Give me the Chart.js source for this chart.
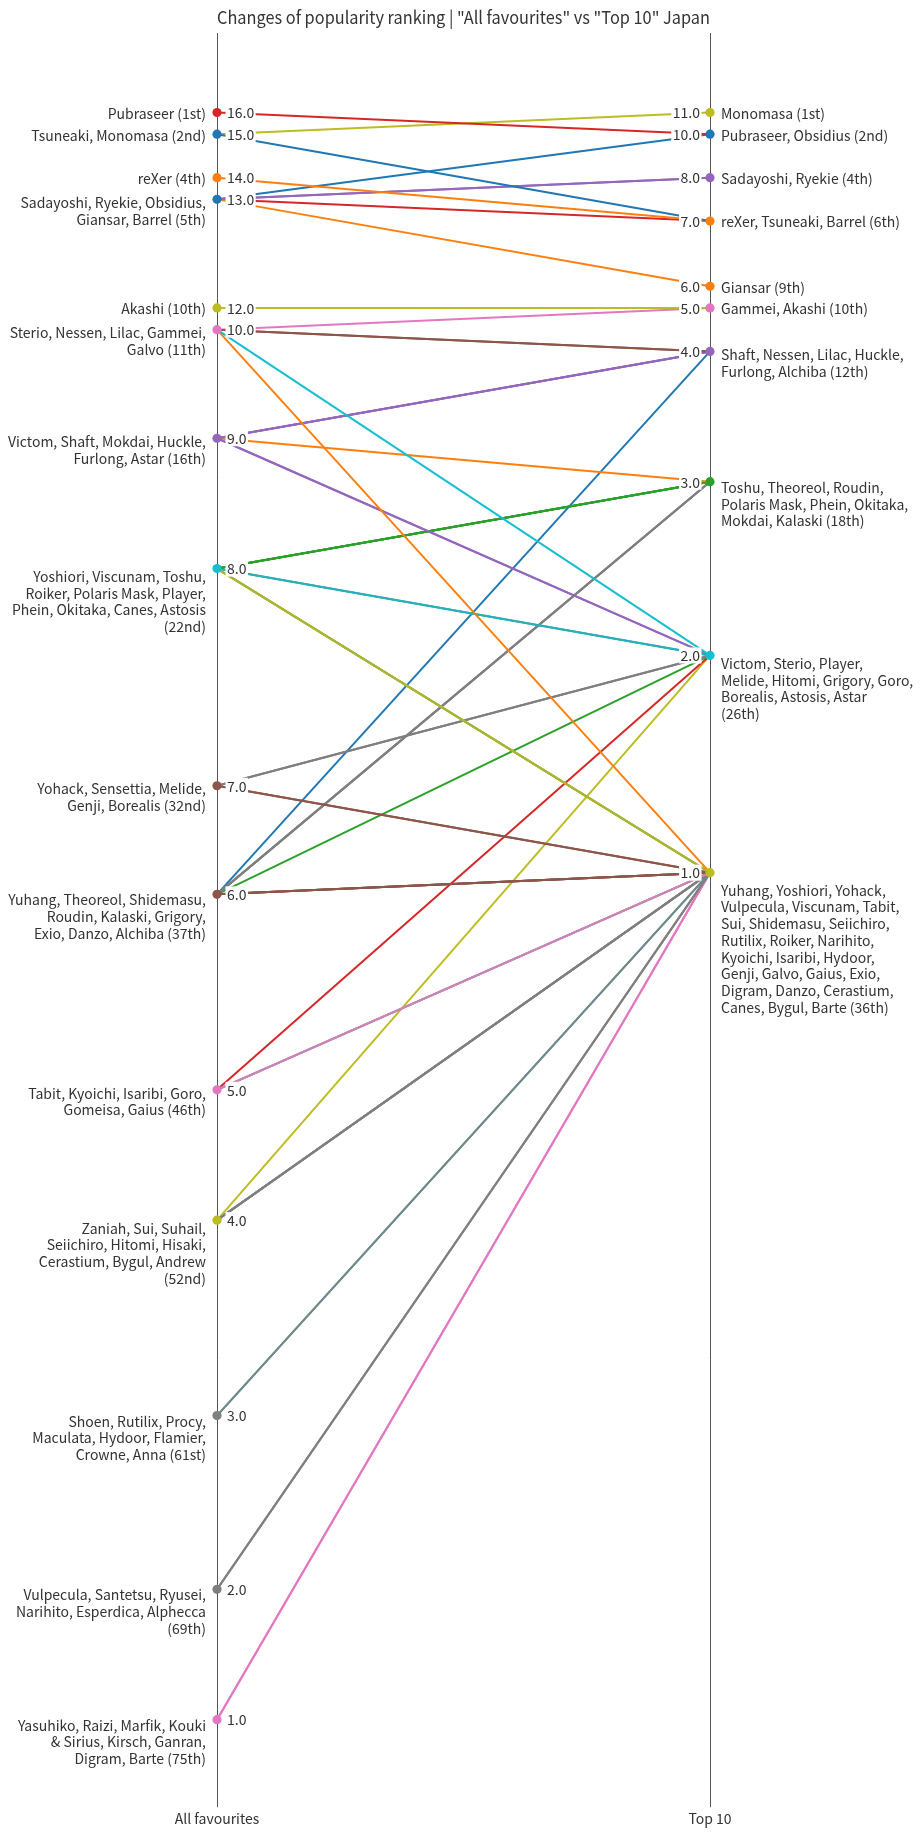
<!DOCTYPE html>
<html>
<head>
    <title>Changes of popularity ranking</title>
    <meta charset="utf-8" />
    <script src="https://cdn.jsdelivr.net/npm/chart.js@4.4.0/dist/chart.umd.min.js"></script>
    <style>
        html, body {
            margin: 0;
            padding: 0;
            background: #fff;
        }
        #wrap {
            width: 921px;
            height: 1836px;
        }
    </style>
</head>
<body>
    <div id="wrap"><canvas id="chart" width="921" height="1836"></canvas></div>

    <script>
        // Characters, in the order of the "All favourites" list
        const names = [
            'Pubraseer',
            'Tsuneaki', 'Monomasa',
            'reXer',
            'Sadayoshi', 'Ryekie', 'Obsidius', 'Giansar', 'Barrel',
            'Akashi',
            'Sterio', 'Nessen', 'Lilac', 'Gammei', 'Galvo',
            'Victom', 'Shaft', 'Mokdai', 'Huckle', 'Furlong', 'Astar',
            'Yoshiori', 'Viscunam', 'Toshu', 'Roiker', 'Polaris Mask', 'Player', 'Phein', 'Okitaka', 'Canes', 'Astosis',
            'Yohack', 'Sensettia', 'Melide', 'Genji', 'Borealis',
            'Yuhang', 'Theoreol', 'Shidemasu', 'Roudin', 'Kalaski', 'Grigory', 'Exio', 'Danzo', 'Alchiba',
            'Tabit', 'Kyoichi', 'Isaribi', 'Goro', 'Gomeisa', 'Gaius',
            'Zaniah', 'Sui', 'Suhail', 'Seiichiro', 'Hitomi', 'Hisaki', 'Cerastium', 'Bygul', 'Andrew',
            'Shoen', 'Rutilix', 'Procy', 'Maculata', 'Hydoor', 'Flamier', 'Crowne', 'Anna',
            'Vulpecula', 'Santetsu', 'Ryusei', 'Narihito', 'Esperdica', 'Alphecca',
            'Yasuhiko', 'Raizi', 'Marfik', 'Kouki & Sirius', 'Kirsch', 'Ganran', 'Digram', 'Barte'
        ];
        // score in "All favourites"
        const allFav = [
            16,
            15, 15,
            14,
            13, 13, 13, 13, 13,
            12,
            10, 10, 10, 10, 10,
            9, 9, 9, 9, 9, 9,
            8, 8, 8, 8, 8, 8, 8, 8, 8, 8,
            7, 7, 7, 7, 7,
            6, 6, 6, 6, 6, 6, 6, 6, 6,
            5, 5, 5, 5, 5, 5,
            4, 4, 4, 4, 4, 4, 4, 4, 4,
            3, 3, 3, 3, 3, 3, 3, 3,
            2, 2, 2, 2, 2, 2,
            1, 1, 1, 1, 1, 1, 1, 1
        ];
        // score in "Top 10" (null = not listed)
        const top10 = [
            10,
            7, 11,
            7,
            8, 8, 10, 6, 7,
            5,
            2, 4, 4, 5, 1,
            2, 4, 3, 4, 4, 2,
            1, 1, 3, 1, 3, 2, 3, 3, 1, 2,
            1, null, 2, 1, 2,
            1, 3, 1, 3, 3, 2, 1, 1, 4,
            1, 1, 1, 2, null, 1,
            null, 1, null, 1, 2, null, 1, 1, null,
            null, 1, null, null, 1, null, null, null,
            1, null, null, 1, null, null,
            null, null, null, null, null, null, 1, 1
        ];
        const columnLabels = ['All favourites', 'Top 10'];
        const chartTitle = 'Changes of popularity ranking | "All favourites" vs "Top 10" Japan';

        // tab10 colours
        const C = {
            blue: '#1f77b4', orange: '#ff7f0e', green: '#2ca02c', red: '#d62728', purple: '#9467bd',
            brown: '#8c564b', pink: '#e377c2', gray: '#7f7f7f', olive: '#bcbd22', cyan: '#17becf'
        };
        // colour of the line joining a left score to a right score
        const pairColor = {
            '16-10': C.red, '15-11': C.olive, '15-7': C.blue, '14-7': C.orange,
            '13-10': C.blue, '13-8': C.purple, '13-7': C.red, '13-6': C.orange,
            '12-5': C.olive, '10-5': C.pink, '10-4': C.brown, '10-2': C.cyan, '10-1': C.orange,
            '9-4': C.purple, '9-3': C.orange, '9-2': C.purple,
            '8-3': C.green, '8-2': '#2aaeb8', '8-1': '#a8b536',
            '7-2': C.gray, '7-1': C.brown,
            '6-4': C.blue, '6-3': C.gray, '6-2': C.green, '6-1': C.brown,
            '5-2': C.red, '5-1': '#c886b6', '4-2': C.olive, '4-1': C.gray,
            '3-1': '#6f8a8a', '2-1': C.gray, '1-1': C.pink
        };
        const leftDotColor = {
            16: C.red, 15: C.blue, 14: C.orange, 13: C.blue, 12: C.olive, 10: C.pink, 9: C.purple,
            8: C.cyan, 7: C.brown, 6: C.brown, 5: C.pink, 4: C.olive, 3: C.gray, 2: C.gray, 1: C.pink
        };
        const rightDotColor = {
            11: C.olive, 10: C.blue, 8: C.purple, 7: C.orange, 6: C.orange,
            5: C.pink, 4: C.purple, 3: C.green, 2: C.cyan, 1: C.olive
        };

        const FONT = '"Noto Sans CJK JP", "Noto Sans", sans-serif';
        const TEXT = '#333333';

        // competition ranking (1st, 2nd, 2nd, 4th ...)
        function ranksOf(values) {
            return values.map(v => v == null ? null : 1 + values.filter(w => w != null && w > v).length);
        }
        const leftRank = ranksOf(allFav);
        const rightRank = ranksOf(top10);

        function groupsOf(values, ranks) {
            const out = [];
            const byValue = {};
            values.forEach((v, i) => {
                if (v == null) return;
                if (!byValue[v]) {
                    byValue[v] = { value: v, rank: ranks[i], names: [] };
                    out.push(byValue[v]);
                }
                byValue[v].names.push(names[i]);
            });
            out.forEach(g => g.names.sort().reverse());
            return out;
        }
        const leftGroups = groupsOf(allFav, leftRank);
        const rightGroups = groupsOf(top10, rightRank);

        function ordinal(n) {
            const t = n % 100;
            if (t >= 11 && t <= 13) return n + 'th';
            return n + ({ 1: 'st', 2: 'nd', 3: 'rd' }[n % 10] || 'th');
        }

        // like python textwrap.wrap(width=30)
        function wrap(text, width) {
            const words = text.split(' ');
            const lines = [];
            let cur = '';
            words.forEach(w => {
                if (!cur) cur = w;
                else if ((cur + ' ' + w).length <= width) cur += ' ' + w;
                else { lines.push(cur); cur = w; }
            });
            if (cur) lines.push(cur);
            return lines;
        }

        // one line per character that is in both lists
        const lineSets = [];
        names.forEach((n, i) => {
            if (top10[i] == null) return;
            lineSets.push({
                type: 'line',
                label: n,
                data: [{ x: 0, y: leftRank[i] }, { x: 1, y: rightRank[i] }],
                borderColor: pairColor[allFav[i] + '-' + top10[i]],
                borderWidth: 2,
                pointRadius: 0,
                fill: false,
                clip: false
            });
        });

        const dotSet = {
            type: 'scatter',
            label: 'dots',
            data: leftGroups.map(g => ({ x: 0, y: g.rank })).concat(rightGroups.map(g => ({ x: 1, y: g.rank }))),
            backgroundColor: leftGroups.map(g => leftDotColor[g.value]).concat(rightGroups.map(g => rightDotColor[g.value])),
            borderWidth: 0,
            pointRadius: 4.6,
            clip: false
        };

        // value labels (with white box) and group name labels
        const labelPlugin = {
            id: 'slopeLabels',
            afterDatasetsDraw(chart) {
                const { ctx, scales: { x, y } } = chart;
                const x0 = x.getPixelForValue(0);
                const x1 = x.getPixelForValue(1);
                ctx.save();
                ctx.font = '14px ' + FONT;
                ctx.textBaseline = 'middle';

                function valueLabel(g, side) {
                    const py = y.getPixelForValue(g.rank);
                    const s = g.value.toFixed(1);
                    const w = ctx.measureText(s).width;
                    const tx = side === 0 ? x0 + 10 : x1 - 10 - w;
                    ctx.fillStyle = '#fff';
                    ctx.fillRect(tx - 1.5, py - 8, w + 3, 16);
                    ctx.fillStyle = TEXT;
                    ctx.textAlign = 'left';
                    ctx.fillText(s, tx, py + 0.5);
                }

                function nameLabel(g, side) {
                    const py = y.getPixelForValue(g.rank);
                    const lines = wrap(g.names.join(', ') + ' (' + ordinal(g.rank) + ')', 30);
                    const first = py + 1 + (lines.length - 1) * 2.4;
                    ctx.fillStyle = TEXT;
                    ctx.textAlign = side === 0 ? 'right' : 'left';
                    const tx = side === 0 ? x0 - 11 : x1 + 11;
                    lines.forEach((ln, k) => ctx.fillText(ln, tx, first + k * 16.7));
                }

                leftGroups.forEach(g => { valueLabel(g, 0); nameLabel(g, 0); });
                rightGroups.forEach(g => { valueLabel(g, 1); nameLabel(g, 1); });
                ctx.restore();
            }
        };

        Chart.defaults.font.family = FONT;

        new Chart(document.getElementById('chart').getContext('2d'), {
            type: 'line',
            data: { datasets: [dotSet].concat(lineSets) },
            options: {
                responsive: false,
                animation: false,
                layout: { padding: { left: 217, right: 211, top: 0, bottom: 6 } },
                plugins: {
                    legend: { display: false },
                    tooltip: { enabled: false },
                    title: {
                        display: true,
                        text: chartTitle,
                        fullSize: false,
                        color: TEXT,
                        font: { size: 17.5, weight: 'normal', family: FONT },
                        padding: { top: 7, bottom: 5 }
                    }
                },
                scales: {
                    x: {
                        type: 'linear',
                        min: 0,
                        max: 1,
                        afterBuildTicks: s => { s.ticks = [{ value: 0 }, { value: 1 }]; },
                        ticks: {
                            callback: v => columnLabels[v],
                            color: TEXT,
                            font: { size: 14, family: FONT },
                            padding: 3,
                            maxRotation: 0,
                            autoSkip: false
                        },
                        grid: { color: '#555', lineWidth: 1, tickLength: 5, drawOnChartArea: true },
                        border: { display: false }
                    },
                    y: {
                        type: 'linear',
                        reverse: true,
                        min: -2.66,
                        max: 78.8,
                        display: false
                    }
                }
            },
            plugins: [labelPlugin]
        });
    </script>
</body>
</html>
